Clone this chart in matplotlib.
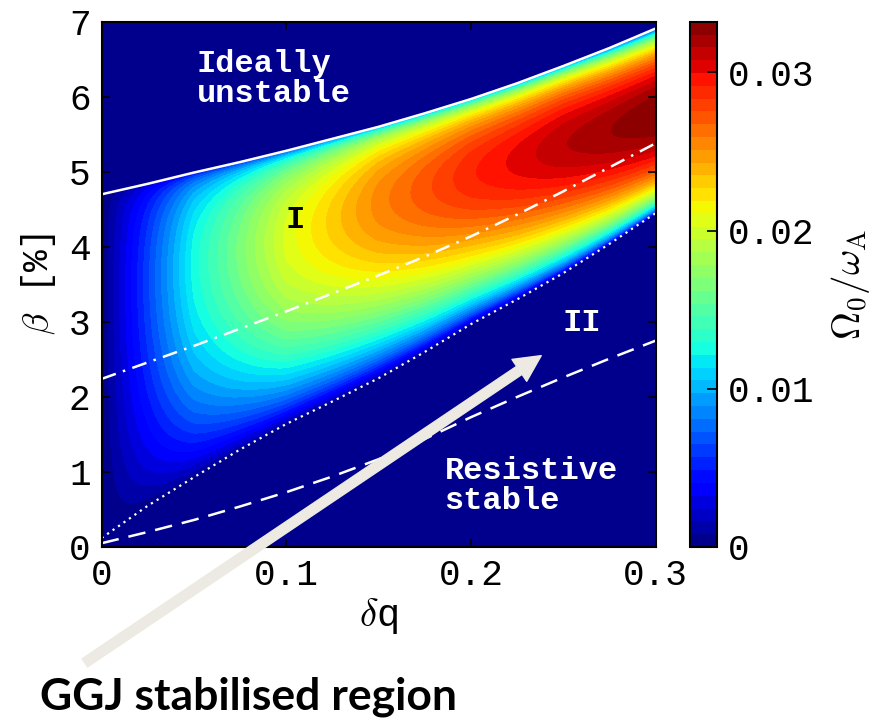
import numpy as np
import matplotlib
matplotlib.use("Agg")
import matplotlib.pyplot as plt

# values
dq = [0.0, 0.025, 0.05, 0.075, 0.10, 0.125, 0.15, 0.175, 0.20, 0.225, 0.25, 0.275, 0.30]
beta_ideal = [4.70, 4.84, 4.99, 5.13, 5.28, 5.44, 5.60, 5.78, 5.97, 6.18, 6.41, 6.65, 6.91]     # solid
beta_dashdot = [2.24, 2.46, 2.68, 2.91, 3.14, 3.38, 3.62, 3.87, 4.14, 4.43, 4.74, 5.06, 5.38]   # dash-dot
beta_dotted = [0.12, 0.55, 0.93, 1.30, 1.64, 1.94, 2.25, 2.60, 2.97, 3.30, 3.65, 4.04, 4.45]    # dotted
beta_dashed = [0.05, 0.20, 0.36, 0.54, 0.73, 0.94, 1.17, 1.44, 1.73, 2.00, 2.26, 2.51, 2.75]    # dashed

dq_map = [0.0, 0.05, 0.10, 0.15, 0.20, 0.25, 0.30]
peak_rate = [0.0, 0.0125, 0.0205, 0.0255, 0.0290, 0.0315, 0.0332]  # max of Omega0/omegaA
peak_pos = [0.70, 0.70, 0.68, 0.70, 0.67, 0.62, 0.53]  # where the max sits between dotted and solid

cb_ticks = [0, 0.01, 0.02, 0.03]
cb_labels = ["0", "0.01", "0.02", "0.03"]
x_ticks = [0, 0.1, 0.2, 0.3]
x_labels = ["0", "0.1", "0.2", "0.3"]
y_ticks = [0, 1, 2, 3, 4, 5, 6, 7]

plt.rcParams["mathtext.fontset"] = "cm"
mono = "Liberation Mono"

# growth rate map between the dotted and the solid boundary
xg = np.linspace(0, 0.3, 601)
yg = np.linspace(0, 7, 701)
X, Y = np.meshgrid(xg, yg)
lo = np.interp(X, dq, beta_dotted)
hi = np.interp(X, dq, beta_ideal)
amp = np.interp(X, dq_map, peak_rate)
sp = np.interp(X, dq_map, peak_pos)
s = (Y - lo) / (hi - lo)
inside = (s > 0) & (s < 1)
sc = np.clip(s, 1e-9, 1 - 1e-9)
k = 1.0
f = (sc / sp) ** (k * sp) * ((1 - sc) / (1 - sp)) ** (k * (1 - sp))
Z = np.where(inside, amp * f, 0.0)

fig = plt.figure(figsize=(8.75, 7.26), dpi=100)
ax = fig.add_axes([0.1162, 0.2466, 0.6332, 0.7235])
cax = fig.add_axes([0.7886, 0.2466, 0.0309, 0.7235])

levels = np.linspace(0, 0.0332, 42)
cf = ax.contourf(X, Y, Z, levels=levels, cmap="jet")
ax.set_facecolor(plt.cm.jet(0.0))

ax.plot(dq, beta_ideal, color="white", lw=1.8)
ax.plot(dq, beta_dashdot, color="white", lw=1.8, linestyle=(0, (6, 3, 1, 3)))
ax.plot(dq, beta_dotted, color="white", lw=1.6, linestyle=(0, (1, 2)))
ax.plot(dq, beta_dashed, color="white", lw=1.8, linestyle=(0, (7, 4)))

ax.set_xlim(0, 0.3)
ax.set_ylim(0, 7)
ax.set_xticks(x_ticks)
ax.set_xticklabels(x_labels)
ax.set_yticks(y_ticks)
ax.tick_params(direction="in", top=True, right=True, length=6, width=1.2,
               labelsize=26, pad=8)
for lab in ax.get_xticklabels() + ax.get_yticklabels():
    lab.set_family(mono)
for sp_ in ax.spines.values():
    sp_.set_linewidth(1.5)

ax.set_xlabel(r"$\delta$q", family=mono, fontsize=28, labelpad=2)
ax.set_ylabel(r"$\beta$ [%]", family=mono, fontsize=26, labelpad=8)

# region labels
ax.text(0.0514, 6.23, "Ideally\nunstable", color="white", family=mono,
        weight="bold", fontsize=23, va="center", ha="left", linespacing=1.0)
ax.text(0.105, 4.36, "I", color="black", family=mono, weight="bold",
        fontsize=23, va="center", ha="center")
ax.text(0.26, 2.99, "II", color="white", family=mono, weight="bold",
        fontsize=23, va="center", ha="center")
ax.text(0.1856, 0.81, "Resistive\nstable", color="white", family=mono,
        weight="bold", fontsize=23, va="center", ha="left", linespacing=1.0)

cb = fig.colorbar(cf, cax=cax, ticks=cb_ticks)
cb.ax.set_yticklabels(cb_labels)
cb.ax.tick_params(direction="in", length=7, width=1.2, labelsize=26, pad=8)
for lab in cb.ax.get_yticklabels():
    lab.set_family(mono)
cb.outline.set_linewidth(1.5)
cb.set_label(r"$\Omega_0/\omega_\mathrm{A}$", fontsize=28, labelpad=10)

# arrow pointing into region II
ax.annotate("", xy=(0.238, 2.55), xycoords="data",
            xytext=(0.097, 0.087), textcoords="figure fraction",
            arrowprops=dict(facecolor="#ECEAE2", edgecolor="#ECEAE2",
                            width=7, headwidth=19, headlength=19, shrink=0),
            annotation_clip=False, zorder=10)

fig.text(0.046, 0.04, "GGJ stabilised region", family="Lato", weight="bold",
         fontsize=32, ha="left", va="center")

fig.savefig("out.png", dpi=100)
